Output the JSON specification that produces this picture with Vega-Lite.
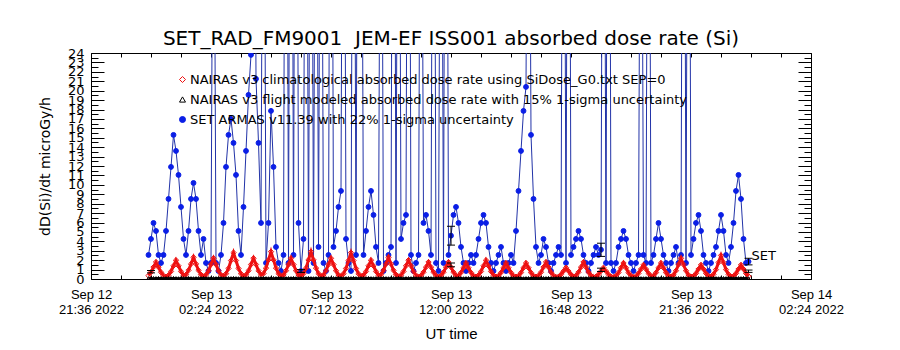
{
"$schema": "https://vega.github.io/schema/vega-lite/v6.json",
"autosize": {"type": "none"},
"width": 720,
"height": 226,
"padding": {"left": 91, "top": 53, "right": 89, "bottom": 71},
"background": "white",
"title": {"text": "SET_RAD_FM9001\u00a0 JEM-EF ISS001 absorbed dose rate (Si)", "font": "DejaVu Sans", "fontSize": 20, "fontWeight": "normal", "color": "black", "anchor": "middle", "offset": -2},
"config": {
  "view": {"stroke": "black", "strokeWidth": 1},
  "font": "DejaVu Sans",
  "axis": {"domain": false, "grid": false, "labelColor": "black", "titleColor": "black", "tickColor": "black", "tickWidth": 1, "labelFont": "DejaVu Sans", "titleFont": "DejaVu Sans", "labelFontSize": 13, "titleFontSize": 14, "titleFontWeight": "normal", "labelOverlap": false, "labelFlush": false}
},
"data": {"values": [
{"t":"2022-09-12T23:54Z","set":2.55,"clim":0.36,"flight":0.08},
{"t":"2022-09-13T00:00Z","set":4.25,"clim":0.72,"flight":0.07},
{"t":"2022-09-13T00:06Z","set":5.95,"clim":1.26,"flight":0.09},
{"t":"2022-09-13T00:12Z","set":5.1,"clim":1.8,"flight":0.08},
{"t":"2022-09-13T00:18Z","set":2.55,"clim":1.26,"flight":0.1},
{"t":"2022-09-13T00:24Z","set":1.7,"clim":0.72,"flight":0.08},
{"t":"2022-09-13T00:30Z","set":2.55,"clim":0.36,"flight":0.07},
{"t":"2022-09-13T00:36Z","set":5.1,"clim":0.25,"flight":0.08},
{"t":"2022-09-13T00:42Z","set":8.5,"clim":0.4,"flight":0.09},
{"t":"2022-09-13T00:48Z","set":11.9,"clim":0.8,"flight":0.08},
{"t":"2022-09-13T00:54Z","set":15.3,"clim":1.4,"flight":0.1},
{"t":"2022-09-13T01:00Z","set":13.6,"clim":2.0,"flight":0.08},
{"t":"2022-09-13T01:06Z","set":11.05,"clim":1.4,"flight":0.07},
{"t":"2022-09-13T01:12Z","set":7.65,"clim":0.8,"flight":0.08},
{"t":"2022-09-13T01:18Z","set":4.25,"clim":0.4,"flight":0.09},
{"t":"2022-09-13T01:24Z","set":2.55,"clim":0.46,"flight":0.08},
{"t":"2022-09-13T01:30Z","set":5.1,"clim":0.92,"flight":0.1},
{"t":"2022-09-13T01:36Z","set":8.5,"clim":1.6,"flight":0.08},
{"t":"2022-09-13T01:42Z","set":10.2,"clim":2.3,"flight":0.07},
{"t":"2022-09-13T01:48Z","set":8.5,"clim":1.6,"flight":0.08},
{"t":"2022-09-13T01:54Z","set":5.1,"clim":0.92,"flight":0.09},
{"t":"2022-09-13T02:00Z","set":2.55,"clim":0.46,"flight":0.08},
{"t":"2022-09-13T02:06Z","set":4.25,"clim":0.27,"flight":0.1},
{"t":"2022-09-13T02:12Z","set":1.7,"clim":0.44,"flight":0.08},
{"t":"2022-09-13T02:18Z","set":0.85,"clim":0.88,"flight":0.07},
{"t":"2022-09-13T02:24Z","set":1.7,"clim":1.54,"flight":0.08},
{"t":"2022-09-13T02:30Z","set":60,"clim":2.2,"flight":0.09},
{"t":"2022-09-13T02:36Z","set":1.7,"clim":1.54,"flight":0.08},
{"t":"2022-09-13T02:42Z","set":0.85,"clim":0.88,"flight":0.1},
{"t":"2022-09-13T02:48Z","set":2.55,"clim":0.44,"flight":0.08},
{"t":"2022-09-13T02:54Z","set":5.95,"clim":0.3,"flight":0.07},
{"t":"2022-09-13T03:00Z","set":11.9,"clim":0.56,"flight":0.08},
{"t":"2022-09-13T03:06Z","set":15.3,"clim":1.12,"flight":0.09},
{"t":"2022-09-13T03:12Z","set":17,"clim":1.96,"flight":0.08},
{"t":"2022-09-13T03:18Z","set":14.45,"clim":2.8,"flight":0.1},
{"t":"2022-09-13T03:24Z","set":11.05,"clim":1.96,"flight":0.08},
{"t":"2022-09-13T03:30Z","set":5.1,"clim":1.12,"flight":0.07},
{"t":"2022-09-13T03:36Z","set":2.55,"clim":0.56,"flight":0.08},
{"t":"2022-09-13T03:42Z","set":7.65,"clim":0.3,"flight":0.09},
{"t":"2022-09-13T03:48Z","set":13.6,"clim":0.44,"flight":0.08},
{"t":"2022-09-13T03:54Z","set":19.55,"clim":0.88,"flight":0.1},
{"t":"2022-09-13T04:00Z","set":23.8,"clim":1.54,"flight":0.08},
{"t":"2022-09-13T04:06Z","set":80,"clim":2.2,"flight":0.07},
{"t":"2022-09-13T04:12Z","set":21.25,"clim":1.54,"flight":0.08},
{"t":"2022-09-13T04:18Z","set":14.45,"clim":0.88,"flight":0.09},
{"t":"2022-09-13T04:24Z","set":5.95,"clim":0.44,"flight":0.08},
{"t":"2022-09-13T04:30Z","set":70,"clim":0.58,"flight":0.1},
{"t":"2022-09-13T04:36Z","set":1.7,"clim":1.16,"flight":0.08},
{"t":"2022-09-13T04:42Z","set":5.95,"clim":2.03,"flight":0.07},
{"t":"2022-09-13T04:48Z","set":17.85,"clim":2.9,"flight":0.08},
{"t":"2022-09-13T04:54Z","set":11.9,"clim":2.03,"flight":0.09},
{"t":"2022-09-13T05:00Z","set":3.4,"clim":1.16,"flight":0.08},
{"t":"2022-09-13T05:06Z","set":1.7,"clim":0.58,"flight":0.1},
{"t":"2022-09-13T05:12Z","set":0.85,"clim":0.3,"flight":0.08},
{"t":"2022-09-13T05:18Z","set":2.55,"clim":0.44,"flight":0.07},
{"t":"2022-09-13T05:24Z","set":90,"clim":0.88,"flight":0.08},
{"t":"2022-09-13T05:30Z","set":1.7,"clim":1.54,"flight":0.09},
{"t":"2022-09-13T05:36Z","set":100,"clim":2.2,"flight":0.08},
{"t":"2022-09-13T05:42Z","set":2.55,"clim":1.54,"flight":0.1},
{"t":"2022-09-13T05:48Z","set":90,"clim":0.88,"flight":0.08},
{"t":"2022-09-13T05:54Z","set":5.95,"clim":0.44,"flight":0.07},
{"t":"2022-09-13T06:00Z","set":0.85,"clim":0.3,"flight":0.08},
{"t":"2022-09-13T06:06Z","set":4.25,"clim":0.58,"flight":0.09},
{"t":"2022-09-13T06:12Z","set":80,"clim":1.16,"flight":0.08},
{"t":"2022-09-13T06:18Z","set":0.85,"clim":2.03,"flight":0.1},
{"t":"2022-09-13T06:24Z","set":80,"clim":2.9,"flight":0.08},
{"t":"2022-09-13T06:30Z","set":1.7,"clim":2.03,"flight":0.07},
{"t":"2022-09-13T06:36Z","set":70,"clim":1.16,"flight":0.08},
{"t":"2022-09-13T06:42Z","set":3.4,"clim":0.58,"flight":0.09},
{"t":"2022-09-13T06:48Z","set":70,"clim":0.3,"flight":0.08},
{"t":"2022-09-13T06:54Z","set":1.7,"clim":0.44,"flight":0.1},
{"t":"2022-09-13T07:00Z","set":0.85,"clim":0.88,"flight":0.08},
{"t":"2022-09-13T07:06Z","set":2.55,"clim":1.54,"flight":0.07},
{"t":"2022-09-13T07:12Z","set":90,"clim":2.2,"flight":0.08},
{"t":"2022-09-13T07:18Z","set":3.4,"clim":1.54,"flight":0.09},
{"t":"2022-09-13T07:24Z","set":5.1,"clim":0.88,"flight":0.08},
{"t":"2022-09-13T07:30Z","set":7.65,"clim":0.44,"flight":0.1},
{"t":"2022-09-13T07:36Z","set":9.35,"clim":0.3,"flight":0.08},
{"t":"2022-09-13T07:42Z","set":80,"clim":0.56,"flight":0.07},
{"t":"2022-09-13T07:48Z","set":4.25,"clim":1.12,"flight":0.08},
{"t":"2022-09-13T07:54Z","set":1.7,"clim":1.96,"flight":0.09},
{"t":"2022-09-13T08:00Z","set":0.85,"clim":2.8,"flight":0.08},
{"t":"2022-09-13T08:06Z","set":80,"clim":1.96,"flight":0.1},
{"t":"2022-09-13T08:12Z","set":2.55,"clim":1.12,"flight":0.08},
{"t":"2022-09-13T08:18Z","set":80,"clim":0.56,"flight":0.07},
{"t":"2022-09-13T08:24Z","set":70,"clim":0.3,"flight":0.08},
{"t":"2022-09-13T08:30Z","set":2.55,"clim":0.4,"flight":0.09},
{"t":"2022-09-13T08:36Z","set":5.1,"clim":0.8,"flight":0.08},
{"t":"2022-09-13T08:42Z","set":7.65,"clim":1.4,"flight":0.1},
{"t":"2022-09-13T08:48Z","set":9.35,"clim":2.0,"flight":0.08},
{"t":"2022-09-13T08:54Z","set":6.8,"clim":1.4,"flight":0.07},
{"t":"2022-09-13T09:00Z","set":3.4,"clim":0.8,"flight":0.08},
{"t":"2022-09-13T09:06Z","set":1.7,"clim":0.4,"flight":0.09},
{"t":"2022-09-13T09:12Z","set":70,"clim":0.46,"flight":0.08},
{"t":"2022-09-13T09:18Z","set":0.85,"clim":0.92,"flight":0.1},
{"t":"2022-09-13T09:24Z","set":1.7,"clim":1.6,"flight":0.08},
{"t":"2022-09-13T09:30Z","set":2.55,"clim":2.3,"flight":0.07},
{"t":"2022-09-13T09:36Z","set":3.4,"clim":1.6,"flight":0.08},
{"t":"2022-09-13T09:42Z","set":90,"clim":0.92,"flight":0.09},
{"t":"2022-09-13T09:48Z","set":1.7,"clim":0.46,"flight":0.08},
{"t":"2022-09-13T09:54Z","set":80,"clim":0.27,"flight":0.1},
{"t":"2022-09-13T10:00Z","set":4.25,"clim":0.4,"flight":0.08},
{"t":"2022-09-13T10:06Z","set":5.95,"clim":0.8,"flight":0.07},
{"t":"2022-09-13T10:12Z","set":6.8,"clim":1.4,"flight":0.08},
{"t":"2022-09-13T10:18Z","set":90,"clim":2.0,"flight":0.09},
{"t":"2022-09-13T10:24Z","set":2.55,"clim":1.4,"flight":0.08},
{"t":"2022-09-13T10:30Z","set":0.85,"clim":0.8,"flight":0.1},
{"t":"2022-09-13T10:36Z","set":1.7,"clim":0.4,"flight":0.08},
{"t":"2022-09-13T10:42Z","set":2.55,"clim":0.25,"flight":0.07},
{"t":"2022-09-13T10:48Z","set":70,"clim":0.36,"flight":0.08},
{"t":"2022-09-13T10:54Z","set":5.95,"clim":0.72,"flight":0.09},
{"t":"2022-09-13T11:00Z","set":6.8,"clim":1.26,"flight":0.08},
{"t":"2022-09-13T11:06Z","set":5.1,"clim":1.8,"flight":0.1},
{"t":"2022-09-13T11:12Z","set":2.55,"clim":1.26,"flight":0.08},
{"t":"2022-09-13T11:18Z","set":80,"clim":0.72,"flight":0.07},
{"t":"2022-09-13T11:24Z","set":1.7,"clim":0.36,"flight":0.08},
{"t":"2022-09-13T11:30Z","set":0.85,"clim":0.25,"flight":0.09},
{"t":"2022-09-13T11:36Z","set":70,"clim":0.36,"flight":0.08},
{"t":"2022-09-13T11:42Z","set":1.7,"clim":0.72,"flight":0.1},
{"t":"2022-09-13T11:48Z","set":90,"clim":1.26,"flight":0.08},
{"t":"2022-09-13T11:54Z","set":2.55,"clim":1.8,"flight":0.07},
{"t":"2022-09-13T12:00Z","set":4.6,"clim":1.26,"flight":0.08},
{"t":"2022-09-13T12:06Z","set":6.8,"clim":0.72,"flight":0.09},
{"t":"2022-09-13T12:12Z","set":7.65,"clim":0.36,"flight":0.08},
{"t":"2022-09-13T12:18Z","set":5.95,"clim":0.34,"flight":0.1},
{"t":"2022-09-13T12:24Z","set":3.4,"clim":0.68,"flight":0.08},
{"t":"2022-09-13T12:30Z","set":1.7,"clim":1.19,"flight":0.07},
{"t":"2022-09-13T12:36Z","set":0.85,"clim":1.7,"flight":0.08},
{"t":"2022-09-13T12:42Z","set":1.7,"clim":1.19,"flight":0.09},
{"t":"2022-09-13T12:48Z","set":2.55,"clim":0.68,"flight":0.08},
{"t":"2022-09-13T12:54Z","set":1.7,"clim":0.34,"flight":0.1},
{"t":"2022-09-13T13:00Z","set":2.55,"clim":0.25,"flight":0.08},
{"t":"2022-09-13T13:06Z","set":4.25,"clim":0.4,"flight":0.07},
{"t":"2022-09-13T13:12Z","set":5.95,"clim":0.8,"flight":0.08},
{"t":"2022-09-13T13:18Z","set":6.8,"clim":1.4,"flight":0.09},
{"t":"2022-09-13T13:24Z","set":5.95,"clim":2.0,"flight":0.08},
{"t":"2022-09-13T13:30Z","set":3.4,"clim":1.4,"flight":0.1},
{"t":"2022-09-13T13:36Z","set":1.7,"clim":0.8,"flight":0.08},
{"t":"2022-09-13T13:42Z","set":0.85,"clim":0.4,"flight":0.07},
{"t":"2022-09-13T13:48Z","set":1.7,"clim":0.25,"flight":0.08},
{"t":"2022-09-13T13:54Z","set":2.55,"clim":0.34,"flight":0.09},
{"t":"2022-09-13T14:00Z","set":3.4,"clim":0.68,"flight":0.08},
{"t":"2022-09-13T14:06Z","set":1.7,"clim":1.19,"flight":0.1},
{"t":"2022-09-13T14:12Z","set":0.85,"clim":1.7,"flight":0.08},
{"t":"2022-09-13T14:18Z","set":1.7,"clim":1.19,"flight":0.07},
{"t":"2022-09-13T14:24Z","set":2.55,"clim":0.68,"flight":0.08},
{"t":"2022-09-13T14:30Z","set":1.7,"clim":0.34,"flight":0.09},
{"t":"2022-09-13T14:36Z","set":5.1,"clim":0.25,"flight":0.08},
{"t":"2022-09-13T14:42Z","set":9.35,"clim":0.34,"flight":0.1},
{"t":"2022-09-13T14:48Z","set":13.6,"clim":0.68,"flight":0.08},
{"t":"2022-09-13T14:54Z","set":17.85,"clim":1.19,"flight":0.07},
{"t":"2022-09-13T15:00Z","set":20.4,"clim":1.7,"flight":0.08},
{"t":"2022-09-13T15:06Z","set":70,"clim":1.19,"flight":0.09},
{"t":"2022-09-13T15:12Z","set":15.3,"clim":0.68,"flight":0.08},
{"t":"2022-09-13T15:18Z","set":8.5,"clim":0.34,"flight":0.1},
{"t":"2022-09-13T15:24Z","set":3.4,"clim":0.25,"flight":0.08},
{"t":"2022-09-13T15:30Z","set":1.7,"clim":0.36,"flight":0.07},
{"t":"2022-09-13T15:36Z","set":2.55,"clim":0.72,"flight":0.08},
{"t":"2022-09-13T15:42Z","set":4.25,"clim":1.26,"flight":0.09},
{"t":"2022-09-13T15:48Z","set":3.4,"clim":1.8,"flight":0.08},
{"t":"2022-09-13T15:54Z","set":1.7,"clim":1.26,"flight":0.1},
{"t":"2022-09-13T16:00Z","set":0.85,"clim":0.72,"flight":0.08},
{"t":"2022-09-13T16:06Z","set":1.7,"clim":0.36,"flight":0.07},
{"t":"2022-09-13T16:12Z","set":2.55,"clim":0.22,"flight":0.08},
{"t":"2022-09-13T16:18Z","set":3.4,"clim":0.25,"flight":0.09},
{"t":"2022-09-13T16:24Z","set":2.55,"clim":0.48,"flight":0.08},
{"t":"2022-09-13T16:30Z","set":80,"clim":0.84,"flight":0.1},
{"t":"2022-09-13T16:36Z","set":1.7,"clim":1.2,"flight":0.08},
{"t":"2022-09-13T16:42Z","set":90,"clim":0.84,"flight":0.07},
{"t":"2022-09-13T16:48Z","set":2.55,"clim":0.48,"flight":0.08},
{"t":"2022-09-13T16:54Z","set":3.4,"clim":0.25,"flight":0.09},
{"t":"2022-09-13T17:00Z","set":4.25,"clim":0.36,"flight":0.08},
{"t":"2022-09-13T17:06Z","set":5.1,"clim":0.72,"flight":0.1},
{"t":"2022-09-13T17:12Z","set":4.25,"clim":1.26,"flight":0.08},
{"t":"2022-09-13T17:18Z","set":2.55,"clim":1.8,"flight":0.07},
{"t":"2022-09-13T17:24Z","set":1.7,"clim":1.26,"flight":0.08},
{"t":"2022-09-13T17:30Z","set":0.85,"clim":0.72,"flight":0.09},
{"t":"2022-09-13T17:36Z","set":1.7,"clim":0.36,"flight":0.08},
{"t":"2022-09-13T17:42Z","set":2.55,"clim":0.22,"flight":0.1},
{"t":"2022-09-13T17:48Z","set":3.4,"clim":0.25,"flight":0.08},
{"t":"2022-09-13T17:54Z","set":2.55,"clim":0.48,"flight":0.07},
{"t":"2022-09-13T18:00Z","set":3.1,"clim":0.84,"flight":0.08},
{"t":"2022-09-13T18:06Z","set":80,"clim":1.2,"flight":0.09},
{"t":"2022-09-13T18:12Z","set":1.7,"clim":0.84,"flight":0.08},
{"t":"2022-09-13T18:18Z","set":100,"clim":0.48,"flight":0.1},
{"t":"2022-09-13T18:24Z","set":1.7,"clim":0.25,"flight":0.08},
{"t":"2022-09-13T18:30Z","set":0.85,"clim":0.22,"flight":0.07},
{"t":"2022-09-13T18:36Z","set":1.7,"clim":0.34,"flight":0.08},
{"t":"2022-09-13T18:42Z","set":3.4,"clim":0.68,"flight":0.09},
{"t":"2022-09-13T18:48Z","set":4.25,"clim":1.19,"flight":0.08},
{"t":"2022-09-13T18:54Z","set":5.1,"clim":1.7,"flight":0.1},
{"t":"2022-09-13T19:00Z","set":4.25,"clim":1.19,"flight":0.08},
{"t":"2022-09-13T19:06Z","set":2.55,"clim":0.68,"flight":0.07},
{"t":"2022-09-13T19:12Z","set":1.7,"clim":0.34,"flight":0.08},
{"t":"2022-09-13T19:18Z","set":0.85,"clim":0.22,"flight":0.09},
{"t":"2022-09-13T19:24Z","set":1.7,"clim":0.3,"flight":0.08},
{"t":"2022-09-13T19:30Z","set":2.55,"clim":0.6,"flight":0.1},
{"t":"2022-09-13T19:36Z","set":70,"clim":1.05,"flight":0.08},
{"t":"2022-09-13T19:42Z","set":2.55,"clim":1.5,"flight":0.07},
{"t":"2022-09-13T19:48Z","set":1.7,"clim":1.05,"flight":0.08},
{"t":"2022-09-13T19:54Z","set":80,"clim":0.6,"flight":0.09},
{"t":"2022-09-13T20:00Z","set":1.7,"clim":0.3,"flight":0.08},
{"t":"2022-09-13T20:06Z","set":2.55,"clim":0.34,"flight":0.1},
{"t":"2022-09-13T20:12Z","set":4.25,"clim":0.68,"flight":0.08},
{"t":"2022-09-13T20:18Z","set":5.95,"clim":1.19,"flight":0.07},
{"t":"2022-09-13T20:24Z","set":4.25,"clim":1.7,"flight":0.08},
{"t":"2022-09-13T20:30Z","set":2.55,"clim":1.19,"flight":0.09},
{"t":"2022-09-13T20:36Z","set":1.7,"clim":0.68,"flight":0.08},
{"t":"2022-09-13T20:42Z","set":0.85,"clim":0.34,"flight":0.1},
{"t":"2022-09-13T20:48Z","set":1.7,"clim":0.25,"flight":0.08},
{"t":"2022-09-13T20:54Z","set":2.55,"clim":0.44,"flight":0.07},
{"t":"2022-09-13T21:00Z","set":3.4,"clim":0.88,"flight":0.08},
{"t":"2022-09-13T21:06Z","set":1.7,"clim":1.54,"flight":0.09},
{"t":"2022-09-13T21:12Z","set":2.55,"clim":2.2,"flight":0.08},
{"t":"2022-09-13T21:18Z","set":90,"clim":1.54,"flight":0.1},
{"t":"2022-09-13T21:24Z","set":1.7,"clim":0.88,"flight":0.08},
{"t":"2022-09-13T21:30Z","set":80,"clim":0.44,"flight":0.07},
{"t":"2022-09-13T21:36Z","set":2.55,"clim":0.25,"flight":0.08},
{"t":"2022-09-13T21:42Z","set":4.25,"clim":0.3,"flight":0.09},
{"t":"2022-09-13T21:48Z","set":5.95,"clim":0.6,"flight":0.08},
{"t":"2022-09-13T21:54Z","set":6.8,"clim":1.05,"flight":0.1},
{"t":"2022-09-13T22:00Z","set":5.1,"clim":1.5,"flight":0.08},
{"t":"2022-09-13T22:06Z","set":2.55,"clim":1.05,"flight":0.07},
{"t":"2022-09-13T22:12Z","set":1.7,"clim":0.6,"flight":0.08},
{"t":"2022-09-13T22:18Z","set":0.85,"clim":0.3,"flight":0.09},
{"t":"2022-09-13T22:24Z","set":1.7,"clim":0.25,"flight":0.08},
{"t":"2022-09-13T22:30Z","set":2.55,"clim":0.5,"flight":0.1},
{"t":"2022-09-13T22:36Z","set":3.4,"clim":1.0,"flight":0.08},
{"t":"2022-09-13T22:42Z","set":5.1,"clim":1.75,"flight":0.07},
{"t":"2022-09-13T22:48Z","set":6.8,"clim":2.5,"flight":0.08},
{"t":"2022-09-13T22:54Z","set":5.1,"clim":1.75,"flight":0.09},
{"t":"2022-09-13T23:00Z","set":2.55,"clim":1.0,"flight":0.08},
{"t":"2022-09-13T23:06Z","set":1.7,"clim":0.5,"flight":0.1},
{"t":"2022-09-13T23:12Z","set":3.4,"clim":0.25,"flight":0.08},
{"t":"2022-09-13T23:18Z","set":5.95,"clim":0.3,"flight":0.07},
{"t":"2022-09-13T23:24Z","set":9.35,"clim":0.6,"flight":0.08},
{"t":"2022-09-13T23:30Z","set":11.05,"clim":1.05,"flight":0.09},
{"t":"2022-09-13T23:36Z","set":8.5,"clim":1.5,"flight":0.08},
{"t":"2022-09-13T23:42Z","set":4.25,"clim":1.05,"flight":0.1},
{"t":"2022-09-13T23:48Z","set":1.7,"clim":0.6,"flight":0.08},
{"t":"2022-09-13T23:54Z","set":1.85,"clim":0.3,"flight":0.07}
]},
"layer": [
  {
    "transform": [{"fold": ["clim", "flight", "set"], "as": ["series", "v"]}, {"filter": "datum.series == 'set'"}],
    "mark": {"type": "line", "color": "#2233a8", "strokeWidth": 1, "clip": true},
    "encoding": {
      "x": {"field": "t", "type": "temporal", "scale": {"type": "utc", "domain": [1663018560000, 1663122240000]},
        "axis": {"orient": "bottom", "values": [1663018560000,1663022880000,1663027200000,1663031520000,1663035840000,1663040160000,1663044480000,1663048800000,1663053120000,1663057440000,1663061760000,1663066080000,1663070400000,1663074720000,1663079040000,1663083360000,1663087680000,1663092000000,1663096320000,1663100640000,1663104960000,1663109280000,1663113600000,1663117920000,1663122240000],
          "labelExpr": "(utchours(datum.value)*60+utcminutes(datum.value)) % 288 == 144 ? [utcFormat(datum.value, '%b %d'), utcFormat(datum.value, '%H:%M %Y')] : ''",
          "tickSize": -4, "labelPadding": 13, "labelFont": "Liberation Sans", "labelFontSize": 13, "labelLineHeight": 15, "labelBaseline": "top",
          "title": "UT time", "titleFont": "Liberation Sans", "titleFontSize": 15, "titlePadding": 10}},
      "y": {"field": "v", "type": "quantitative", "scale": {"domain": [0, 24], "nice": false, "zero": true},
        "axis": {"orient": "left", "values": [0,1,2,3,4,5,6,7,8,9,10,11,12,13,14,15,16,17,18,19,20,21,22,23,24],
          "tickSize": -13, "labelPadding": 20, "labelFontSize": 13,
          "title": "dD(Si)/dt microGy/h", "titleFontSize": 14, "titlePadding": 15}}
    }
  },
  {
    "transform": [{"fold": ["clim", "flight", "set"], "as": ["series", "v"]}, {"filter": "datum.series == 'set'"}],
    "mark": {"type": "point", "size": 24, "strokeWidth": 1, "opacity": 1, "clip": true},
    "encoding": {
      "x": {"field": "t", "type": "temporal",
        "axis": {"orient": "top", "values": [1663018560000,1663022880000,1663027200000,1663031520000,1663035840000,1663040160000,1663044480000,1663048800000,1663053120000,1663057440000,1663061760000,1663066080000,1663070400000,1663074720000,1663079040000,1663083360000,1663087680000,1663092000000,1663096320000,1663100640000,1663104960000,1663109280000,1663113600000,1663117920000,1663122240000],
          "labels": false, "tickSize": -4, "title": null}},
      "y": {"field": "v", "type": "quantitative",
        "axis": {"orient": "left", "values": [0.5,1.5,2.5,3.5,4.5,5.5,6.5,7.5,8.5,9.5,10.5,11.5,12.5,13.5,14.5,15.5,16.5,17.5,18.5,19.5,20.5,21.5,22.5,23.5],
          "labels": false, "tickSize": -7, "title": null}},
      "stroke": {"field": "series", "type": "nominal", "scale": {"domain": ["clim", "flight", "set"], "range": ["#ee1111", "#000000", "#0a1ee6"]},
        "legend": {"title": null, "orient": "none", "legendX": 85, "legendY": 20, "labelFont": "DejaVu Sans", "labelFontSize": 13, "labelColor": "black", "symbolSize": 36, "symbolStrokeWidth": 1, "rowPadding": 6, "labelOffset": 1, "labelLimit": 0,
          "labelExpr": "datum.label == 'clim' ? 'NAIRAS v3 climatological absorbed dose rate using SiDose_G0.txt SEP=0' : datum.label == 'flight' ? 'NAIRAS v3 flight modeled absorbed dose rate with 15% 1-sigma uncertainty' : 'SET ARMAS v11.39 with 22% 1-sigma uncertainty'"}},
      "fill": {"field": "series", "type": "nominal", "scale": {"domain": ["clim", "flight", "set"], "range": ["transparent", "transparent", "#0a1ee6"]},
        "legend": {"title": null, "orient": "none", "legendX": 85, "legendY": 20, "labelFont": "DejaVu Sans", "labelFontSize": 13, "labelColor": "black", "symbolSize": 36, "symbolStrokeWidth": 1, "rowPadding": 6, "labelOffset": 1, "labelLimit": 0,
          "labelExpr": "datum.label == 'clim' ? 'NAIRAS v3 climatological absorbed dose rate using SiDose_G0.txt SEP=0' : datum.label == 'flight' ? 'NAIRAS v3 flight modeled absorbed dose rate with 15% 1-sigma uncertainty' : 'SET ARMAS v11.39 with 22% 1-sigma uncertainty'"}},
      "shape": {"field": "series", "type": "nominal", "scale": {"domain": ["clim", "flight", "set"], "range": ["diamond", "triangle-up", "circle"]},
        "legend": {"title": null, "orient": "none", "legendX": 85, "legendY": 20, "labelFont": "DejaVu Sans", "labelFontSize": 13, "labelColor": "black", "symbolSize": 36, "symbolStrokeWidth": 1, "rowPadding": 6, "labelOffset": 1, "labelLimit": 0,
          "labelExpr": "datum.label == 'clim' ? 'NAIRAS v3 climatological absorbed dose rate using SiDose_G0.txt SEP=0' : datum.label == 'flight' ? 'NAIRAS v3 flight modeled absorbed dose rate with 15% 1-sigma uncertainty' : 'SET ARMAS v11.39 with 22% 1-sigma uncertainty'"}}
    }
  },
  {
    "transform": [{"fold": ["clim", "flight", "set"], "as": ["series", "v"]}, {"filter": "datum.series == 'clim'"}],
    "mark": {"type": "line", "color": "#ee1111", "strokeWidth": 3, "clip": true},
    "encoding": {
      "x": {"field": "t", "type": "temporal", "axis": null},
      "y": {"field": "v", "type": "quantitative", "axis": null}
    }
  },
  {
    "transform": [{"fold": ["clim", "flight", "set"], "as": ["series", "v"]}, {"filter": "datum.series == 'clim'"}],
    "mark": {"type": "point", "size": 28, "strokeWidth": 1, "opacity": 1, "clip": true},
    "encoding": {
      "x": {"field": "t", "type": "temporal", "axis": null},
      "y": {"field": "v", "type": "quantitative",
        "axis": {"orient": "right", "values": [0,1,2,3,4,5,6,7,8,9,10,11,12,13,14,15,16,17,18,19,20,21,22,23,24], "labels": false, "tickSize": -13, "title": null}},
      "stroke": {"field": "series", "type": "nominal"},
      "fill": {"field": "series", "type": "nominal"},
      "shape": {"field": "series", "type": "nominal"}
    }
  },
  {
    "transform": [{"fold": ["clim", "flight", "set"], "as": ["series", "v"]}, {"filter": "datum.series == 'flight'"}],
    "mark": {"type": "line", "color": "black", "strokeWidth": 2, "clip": true},
    "encoding": {
      "x": {"field": "t", "type": "temporal", "axis": null},
      "y": {"field": "v", "type": "quantitative",
        "axis": {"orient": "right", "values": [0.5,1.5,2.5,3.5,4.5,5.5,6.5,7.5,8.5,9.5,10.5,11.5,12.5,13.5,14.5,15.5,16.5,17.5,18.5,19.5,20.5,21.5,22.5,23.5], "labels": false, "tickSize": -7, "title": null}}
    }
  },
  {
    "transform": [{"fold": ["clim", "flight", "set"], "as": ["series", "v"]}, {"filter": "datum.series == 'flight'"}],
    "mark": {"type": "point", "size": 14, "strokeWidth": 1, "opacity": 1, "clip": true},
    "encoding": {
      "x": {"field": "t", "type": "temporal", "axis": null},
      "y": {"field": "v", "type": "quantitative", "axis": null},
      "stroke": {"field": "series", "type": "nominal"},
      "fill": {"field": "series", "type": "nominal"},
      "shape": {"field": "series", "type": "nominal"}
    }
  },
  {
    "data": {"name": "err", "values": [
      {"t":"2022-09-13T00:00Z","lo":0.65,"hi":0.9},
      {"t":"2022-09-13T06:00Z","lo":0.7,"hi":1.0},
      {"t":"2022-09-13T12:00Z","lo":3.6,"hi":5.6},
      {"t":"2022-09-13T12:00Z","lo":1.3,"hi":1.7},
      {"t":"2022-09-13T18:00Z","lo":2.4,"hi":3.8},
      {"t":"2022-09-13T18:00Z","lo":0.8,"hi":1.15},
      {"t":"2022-09-13T23:54Z","lo":1.5,"hi":2.2},
      {"t":"2022-09-13T23:54Z","lo":0.7,"hi":0.95}
    ]},
    "layer": [
      {"mark": {"type": "rule", "color": "black", "strokeWidth": 1},
       "encoding": {"x": {"field": "t", "type": "temporal", "axis": null}, "y": {"field": "lo", "type": "quantitative", "axis": null}, "y2": {"field": "hi"}}},
      {"mark": {"type": "tick", "color": "black", "orient": "horizontal", "size": 8, "thickness": 1, "opacity": 1},
       "encoding": {"x": {"field": "t", "type": "temporal", "axis": null}, "y": {"field": "lo", "type": "quantitative", "axis": null}}},
      {"mark": {"type": "tick", "color": "black", "orient": "horizontal", "size": 8, "thickness": 1, "opacity": 1},
       "encoding": {"x": {"field": "t", "type": "temporal", "axis": null}, "y": {"field": "hi", "type": "quantitative", "axis": null}}}
    ]
  },
  {
    "data": {"name": "lab", "values": [{"t":"2022-09-13T23:54Z","v":2.4,"label":"SET"}]},
    "mark": {"type": "text", "align": "left", "baseline": "middle", "dx": 3, "font": "DejaVu Sans", "fontSize": 13, "color": "black"},
    "encoding": {"x": {"field": "t", "type": "temporal", "axis": null}, "y": {"field": "v", "type": "quantitative", "axis": null}, "text": {"field": "label"}}
  }
],
"resolve": {"scale": {"x": "shared", "y": "shared"}, "axis": {"x": "independent", "y": "independent"}}
}
